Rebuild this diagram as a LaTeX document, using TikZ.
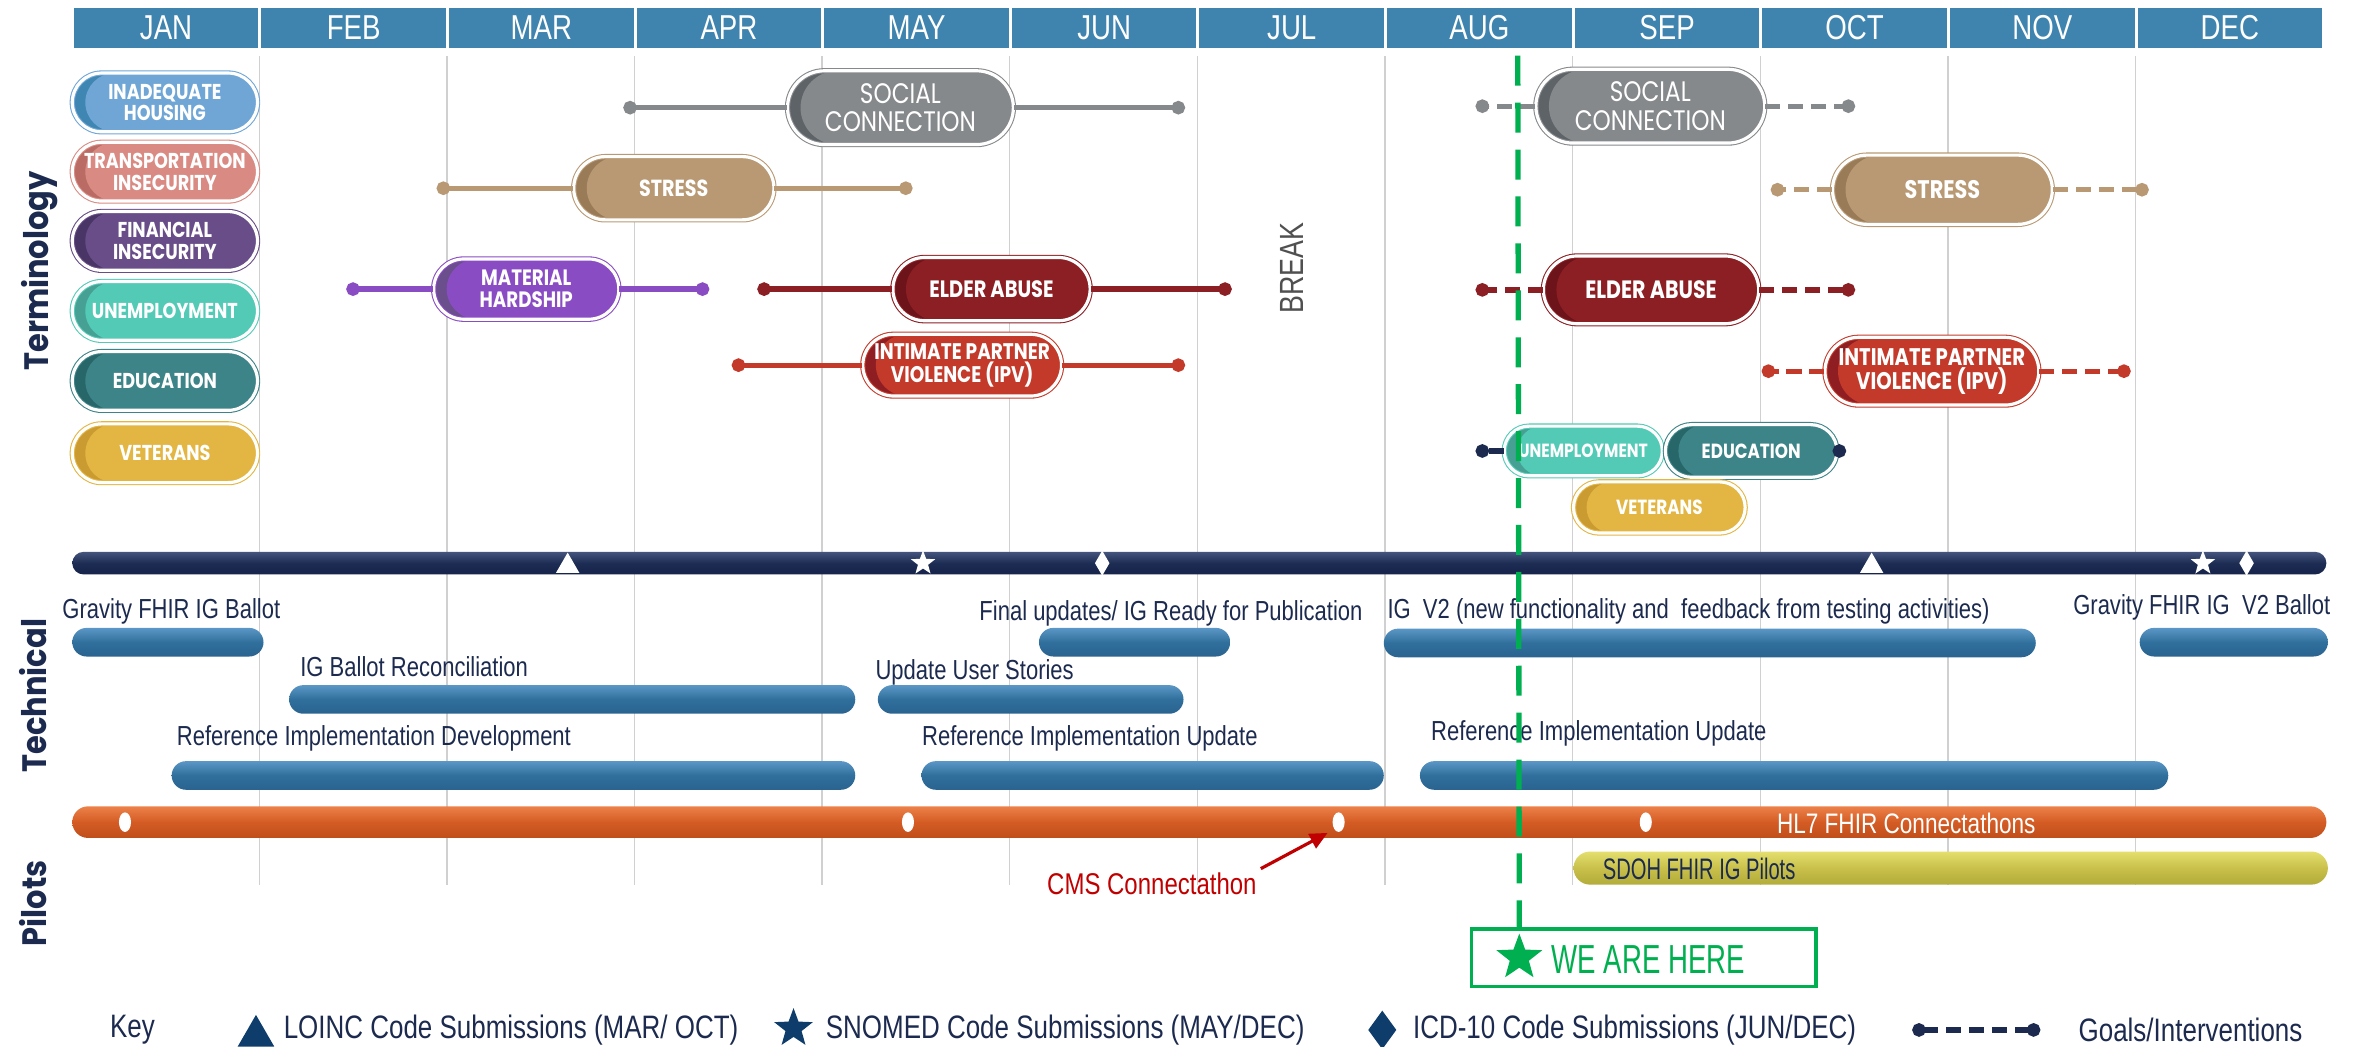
\documentclass[tikz,border=0pt]{standalone}
\usepackage{fontspec}
\setmainfont{Liberation Sans}
\newfontfamily\narrowfont[FakeStretch=0.8]{Liberation Sans}
\newfontfamily\slimfont[FakeStretch=0.68]{Liberation Sans}
\newfontfamily\pillfont[FakeStretch=0.82]{Poppins}
\newfontfamily\sidefont[FakeStretch=0.9]{Poppins}
\usetikzlibrary{shapes.misc,shapes.geometric,arrows.meta,calc}

\definecolor{navy}{HTML}{1B2A4E}
\definecolor{monthblue}{HTML}{3E84AF}
\definecolor{gridgray}{HTML}{D0D0D0}
\definecolor{housA}{HTML}{6FA6D6}\definecolor{housB}{HTML}{3F86B3}
\definecolor{transA}{HTML}{D98B83}\definecolor{transB}{HTML}{BA6B64}
\definecolor{finA}{HTML}{684D88}\definecolor{finB}{HTML}{4A3567}
\definecolor{unempA}{HTML}{53CAB6}\definecolor{unempB}{HTML}{46A194}
\definecolor{eduA}{HTML}{3D8488}\definecolor{eduB}{HTML}{276769}
\definecolor{vetA}{HTML}{E3B643}\definecolor{vetB}{HTML}{C99B31}
\definecolor{socA}{HTML}{86898C}\definecolor{socB}{HTML}{5E6367}
\definecolor{strA}{HTML}{B89973}\definecolor{strB}{HTML}{9A7B58}
\definecolor{matA}{HTML}{8A4CC3}\definecolor{matB}{HTML}{6A4F8C}
\definecolor{eldA}{HTML}{8C1F24}\definecolor{eldB}{HTML}{6D131A}
\definecolor{ipvA}{HTML}{C33A2B}\definecolor{ipvB}{HTML}{8E1E22}
\definecolor{techtop}{HTML}{5B97C6}\definecolor{techmid}{HTML}{306F9C}\definecolor{techbot}{HTML}{2A6390}
\definecolor{navytop}{HTML}{44547C}\definecolor{navymid}{HTML}{1D2C53}\definecolor{navybot}{HTML}{16234A}
\definecolor{orgtop}{HTML}{EC8149}\definecolor{orgmid}{HTML}{D45C24}\definecolor{orgbot}{HTML}{C04E1A}
\definecolor{sdtop}{HTML}{E4DF6F}\definecolor{sdmid}{HTML}{C8C04A}\definecolor{sdbot}{HTML}{B3AB3A}
\definecolor{keyblue}{HTML}{0E3D6B}
\definecolor{cmsred}{HTML}{C00000}
\definecolor{hereg}{HTML}{00B050}
\definecolor{breakgray}{HTML}{505050}

\begin{document}
\begin{tikzpicture}[x=0.15mm,y=-0.15mm,
  month/.style={fill=monthblue,text=white,inner sep=0pt,minimum width=122.6*0.15mm,minimum height=27*0.15mm,font=\narrowfont\fontsize{9.8}{10}\selectfont},
  gridline/.style={gridgray,line width=0.4pt},
  side/.style={rotate=90,text=navy,font=\sidefont\bfseries\fontsize{9.6}{10}\selectfont},
  pw/.style={minimum width=#1*0.15mm},
  ph/.style={minimum height=#1*0.15mm},
  pfont/.style={font=\pillfont\bfseries\fontsize{#1}{#1}\selectfont},
  sfont/.style={font=\pillfont\fontsize{8}{8}\selectfont},
  pill/.style 2 args={rounded rectangle,inner sep=0pt,fill=#1,draw=#1,line width=0.3pt,double=white,double distance=0.9pt,text=white,align=center,pfont=6.1,
    path picture={
      \fill[fill=#2] let \p1=(path picture bounding box.south west),\p2=(path picture bounding box.north east),\n1={(\y2-\y1)/2} in (\p1) rectangle (\x1+\n1+1.3mm,\y2);
      \fill[fill=#1] let \p1=(path picture bounding box.south west),\p2=(path picture bounding box.north east),\n1={(\y2-\y1)/2} in (\x1+\n1+1.3mm,\y1+\n1) circle[radius=\n1];}},
  goal/.style={line width=1.5pt,-{Circle[length=3.8pt]}},
  plan/.style={goal,dash pattern=on 4.3pt off 2.2pt},
  bar/.style={rounded rectangle,inner sep=0pt,ph=19,top color=techtop,bottom color=techbot,middle color=techmid},
  navybar/.style={rounded rectangle,inner sep=0pt,ph=15,top color=navytop,bottom color=navybot,middle color=navymid},
  conbar/.style={rounded rectangle,inner sep=0pt,ph=21,top color=orgtop,bottom color=orgbot,middle color=orgmid},
  pilotbar/.style={rounded rectangle,inner sep=0pt,ph=22,top color=sdtop,bottom color=sdbot,middle color=sdmid},
  tlabel/.style={anchor=base west,inner sep=0pt,text=navy,font=\narrowfont\fontsize{7.8}{9}\selectfont},
  cdot/.style={ellipse,fill=white,inner sep=0pt,minimum width=8*0.15mm,minimum height=13*0.15mm},
  lomark/.style={regular polygon,regular polygon sides=3,inner sep=0pt,minimum size=18*0.15mm},
  snmark/.style={star,star points=5,star point ratio=2.4,inner sep=0pt,minimum size=17*0.15mm},
  icdmark/.style={diamond,inner sep=0pt,minimum width=10*0.15mm,minimum height=17*0.15mm},
  keytext/.style={anchor=west,inner sep=0pt,text=navy,font=\narrowfont\fontsize{9.2}{10}\selectfont},
  nowline/.style={hereg,line width=1.5pt,dash pattern=on 8.5pt off 4.8pt}]
\useasboundingbox (0,0) rectangle (1568,695);

\foreach \m [count=\i from 0] in {JAN,FEB,MAR,APR,MAY,JUN,JUL,AUG,SEP,OCT,NOV,DEC}
{
  \node[month] (m\i) at (110.3+124.6*\i,18.5) {\m};
}
\foreach \i in {1,...,11}
{
  \draw[gridline] (47.6+124.6*\i,37) -- (47.6+124.6*\i,588);
}

\node[side] (term) at (26,180) {Terminology};
\node[side] (tech) at (22,462) {Technical};
\node[side] (pil) at (22,600) {Pilots};

\foreach \nm/\py/\txt in {hous/68/{INADEQUATE\\HOUSING},trans/114/{TRANSPORTATION\\INSECURITY},fin/160/{FINANCIAL\\INSECURITY},unemp/206.5/UNEMPLOYMENT,edu/253/EDUCATION,vet/301/VETERANS}
{
  \node[pill={\nm A}{\nm B},pw=123,ph=39] (\nm) at (109.5,\py) {\txt};
}

\node[pill={socA}{socB},pw=150,ph=49,sfont] (soc1) at (598,71.5) {SOCIAL\\CONNECTION};
\node[pill={strA}{strB},pw=133,ph=42,pfont=6.6] (str1) at (447.5,125) {STRESS};
\node[pill={matA}{matB},pw=123,ph=40,pfont=6.3] (mat) at (349.5,192) {MATERIAL\\HARDSHIP};
\node[pill={eldA}{eldB},pw=131,ph=42,pfont=6.7] (eld1) at (658.5,192) {ELDER ABUSE};
\node[pill={ipvA}{ipvB},pw=132,ph=41,pfont=6.4] (ipv1) at (639,242.5) {INTIMATE PARTNER\\VIOLENCE (IPV)};
\foreach \nm/\cl/\xa/\xb/\py in {soc1/socA/414/787/71.5,str1/strA/290/606/125,mat/matA/230/471/192,eld1/eldA/503/818/192,ipv1/ipvA/486/787/242.5}
{
  \coordinate (\nm a) at (\xa,\py);
  \coordinate (\nm b) at (\xb,\py);
  \draw[goal,color=\cl] (\nm.west) -- (\nm a);
  \draw[goal,color=\cl] (\nm.east) -- (\nm b);
}

\node[rotate=90,text=breakgray,font=\narrowfont\fontsize{9.5}{10}\selectfont] (brk) at (858,178) {BREAK};

\node[pill={socA}{socB},pw=152,ph=49,sfont] (soc2) at (1096,70.5) {SOCIAL\\CONNECTION};
\node[pill={strA}{strB},pw=146,ph=46,pfont=7.2] (str2) at (1290,126) {STRESS};
\node[pill={eldA}{eldB},pw=143,ph=45,pfont=7.1] (eld2) at (1096.5,192.5) {ELDER ABUSE};
\node[pill={ipvA}{ipvB},pw=142,ph=45,pfont=6.8] (ipv2) at (1283,246.5) {INTIMATE PARTNER\\VIOLENCE (IPV)};
\node[pill={unempA}{unempB},pw=105,ph=33,pfont=5.4] (unemp2) at (1051.5,299.5) {UNEMPLOYMENT};
\node[pill={eduA}{eduB},pw=114,ph=35,pfont=5.8] (edu2) at (1163,299.5) {EDUCATION};
\node[pill={vetA}{vetB},pw=114,ph=34,pfont=5.8] (vet2) at (1102,337) {VETERANS};
\foreach \nm/\cl/\xa/\xb/\py in {soc2/socA/980/1232/70.5,str2/strA/1176/1427/126,eld2/eldA/980/1232/192.5,ipv2/ipvA/1170/1415/246.5}
{
  \coordinate (\nm a) at (\xa,\py);
  \coordinate (\nm b) at (\xb,\py);
  \draw[plan,color=\cl] (\nm.west) -- (\nm a);
  \draw[plan,color=\cl] (\nm.east) -- (\nm b);
}
\coordinate (edu2a) at (980,299.5);
\coordinate (edu2b) at (1226,299.5);
\draw[plan,color=navy] (unemp2.west) -- (edu2a);
\draw[plan,color=navy] (edu2.east) -- (edu2b);

\node[navybar,pw=1497] (codes) at (796.5,374) {};
\node[lomark,fill=white] (lo1) at (377,376) {};
\node[snmark,fill=white] (sn1) at (613,374) {};
\node[icdmark,fill=white] (icd1) at (732,374) {};
\node[lomark,fill=white] (lo2) at (1243,376) {};
\node[snmark,fill=white] (sn2) at (1463,374) {};
\node[icdmark,fill=white] (icd2) at (1492,374) {};

\foreach \nm/\cx/\cy/\w in {gb1/111.5/426.5/127,finbar/753.5/426.5/127,igv2/1135.5/427/433,gb2/1483.5/426.5/125,rec/380/464.5/376,uus/684.5/464.5/203,rid/341/515/454,riu1/765.5/515/307,riu2/1191.5/515/497}
{
  \node[bar,pw=\w] (\nm) at (\cx,\cy) {};
}
\node[tlabel] (gb1t) at (41,411) {Gravity FHIR IG Ballot};
\node[tlabel] (fint) at (650,412) {Final updates/ IG Ready for Publication};
\node[tlabel] (igv2t) at (921,411) {IG\ \ V2 (new functionality and\ \ feedback from testing activities)};
\node[tlabel,anchor=base east] (gb2t) at (1548,408) {Gravity FHIR IG\ \ V2 Ballot};
\node[tlabel] (rect) at (199,449) {IG Ballot Reconciliation};
\node[tlabel] (uust) at (581,451) {Update User Stories};
\node[tlabel] (ridt) at (117,495) {Reference Implementation Development};
\node[tlabel] (riu1t) at (612,495) {Reference Implementation Update};
\node[tlabel] (riu2t) at (950,492) {Reference Implementation Update};

\node[conbar,pw=1497] (conn) at (796.5,546) {};
\foreach \x [count=\k] in {83,603,889,1093}
{
  \node[cdot] (c\k) at (\x,546) {};
}
\node[text=white,inner sep=0pt,font=\narrowfont\fontsize{8}{9}\selectfont] (hl7) at (1266,547) {HL7 FHIR Connectathons};
\node[pilotbar,pw=501] (sdoh) at (1295.5,576.5) {};
\node[tlabel,anchor=west,font=\slimfont\fontsize{8.4}{9}\selectfont] (sdoht) at (1064,577) {SDOH FHIR IG Pilots};
\node[text=cmsred,inner sep=1pt,font=\narrowfont\fontsize{8.5}{9}\selectfont] (cms) at (765,587) {CMS Connectathon};
\draw[cmsred,line width=0.9pt,-{Triangle[length=5pt,width=4.5pt]},shorten >=2pt] (cms.north east) -- (c3.south west);

\node[text=navy,inner sep=0pt,font=\narrowfont\fontsize{9.2}{10}\selectfont] (key) at (88,684) {Key};
\node[lomark,fill=keyblue,minimum size=28*0.15mm] (klo) at (170,688) {};
\node[keytext] (klot) at (188,684) {LOINC Code Submissions (MAR/ OCT)};
\node[snmark,fill=keyblue,minimum size=27*0.15mm] (ksn) at (527,683) {};
\node[keytext] (ksnt) at (548,684) {SNOMED Code Submissions (MAY/DEC)};
\node[icdmark,fill=keyblue,minimum width=19*0.15mm,minimum height=26*0.15mm] (kicd) at (918,684) {};
\node[keytext] (kicdt) at (938,684) {ICD-10 Code Submissions (JUN/DEC)};
\coordinate (kga) at (1270,684);
\coordinate (kgb) at (1355,684);
\draw[plan,color=navy,{Circle[length=3.8pt]}-{Circle[length=3.8pt]}] (kga) -- (kgb);
\node[keytext] (kgt) at (1380,684) {Goals/Interventions};

\node[draw=hereg,line width=0.9pt,fill=white,inner sep=0pt,pw=229,ph=38] (here) at (1091.5,636) {};
\node[star,star points=5,star point ratio=2.4,fill=hereg,inner sep=0pt,minimum size=32*0.15mm] (herestar) at (1009,636) {};
\node[anchor=west,text=hereg,inner sep=0pt,font=\slimfont\fontsize{11.5}{12}\selectfont] (heret) at (1030,637) {WE ARE HERE};
\coordinate (nowtop) at (1008,37);
\draw[nowline] (nowtop) -- (herestar.north);
\end{tikzpicture}
\end{document}
